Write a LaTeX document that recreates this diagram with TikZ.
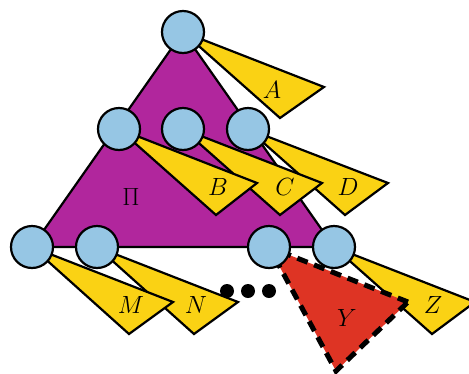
\documentclass[tikz,border=0pt]{standalone}
\usetikzlibrary{calc}
\definecolor{magentaP}{RGB}{177,38,157}
\definecolor{bubble}{RGB}{150,198,228}
\definecolor{wedgeY}{RGB}{250,210,20}
\definecolor{redY}{RGB}{222,52,36}
\tikzset{
  vert/.style={circle,draw=black,fill=bubble,line width=2.2pt,minimum size=42pt,inner sep=0pt},
  wedge/.style={draw=black,fill=wedgeY,line width=2.2pt,line join=miter},
  lab/.style={font=\fontsize{30}{36}\selectfont,inner sep=0pt},
  dot/.style={circle,fill=black,minimum size=14pt,inner sep=0pt}
}
\begin{document}
\begin{tikzpicture}[x=1pt,y=-1pt]
\useasboundingbox (0,0) rectangle (469,373);
% positions
\coordinate (t) at (183,32);
\coordinate (p1) at (119,129);
\coordinate (p2) at (183,129);
\coordinate (p3) at (248,129);
\coordinate (q1) at (32,247);
\coordinate (q2) at (97,247);
\coordinate (q3) at (269,247);
\coordinate (q4) at (334,247);
% big triangle
\fill[magentaP,draw=black,line width=2.2pt,line join=round] (t) -- (q1) -- (q4) -- cycle;
% wedges (right ones first)
\draw[wedge] (t) -- ($(t)+(141,55)$) -- ($(t)+(97,86)$) -- cycle;
\draw[wedge] (p3) -- ($(p3)+(140,54)$) -- ($(p3)+(97,86)$) -- cycle;
\draw[wedge] (p2) -- ($(p2)+(139,54)$) -- ($(p2)+(97,86)$) -- cycle;
\draw[wedge] (p1) -- ($(p1)+(138,54)$) -- ($(p1)+(97,86)$) -- cycle;
\draw[wedge] (q4) -- ($(q4)+(141,55)$) -- ($(q4)+(98,87)$) -- cycle;
\draw[wedge] (q2) -- ($(q2)+(141,55)$) -- ($(q2)+(97,87)$) -- cycle;
\draw[wedge] (q1) -- ($(q1)+(141,55)$) -- ($(q1)+(97,87)$) -- cycle;
% red triangle
\fill[redY] (q3) -- ($(q3)+(139,55)$) -- ($(q3)+(67,124)$) -- cycle;
\draw[black,line width=5pt,dash pattern=on 11pt off 7pt] ($(q3)+(139,55)$) -- (q3) -- ($(q3)+(67,124)$) -- cycle;
% circles
\node[vert] (nt) at (t) {};
\node[vert] (n1) at (p1) {};
\node[vert] (n2) at (p2) {};
\node[vert] (n3) at (p3) {};
\node[vert] (m1) at (q1) {};
\node[vert] (m2) at (q2) {};
\node[vert] (m3) at (q3) {};
\node[vert] (m4) at (q4) {};
% dots
\node[dot] (d1) at (227,291) {};
\node[dot] (d2) at (248,291) {};
\node[dot] (d3) at (269,291) {};
% labels
\node[lab] (lA) at (272,90) {$A$};
\node[lab] (lB) at (218,187) {$B$};
\node[lab] (lC) at (285,187) {$C$};
\node[lab] (lD) at (348,187) {$D$};
\node[lab] (lP) at (131,197) {$\Pi$};
\node[lab] (lM) at (131,305) {$M$};
\node[lab] (lN) at (196,305) {$N$};
\node[lab] (lY) at (347,318) {$Y$};
\node[lab] (lZ) at (433,305) {$Z$};
\end{tikzpicture}
\end{document}
